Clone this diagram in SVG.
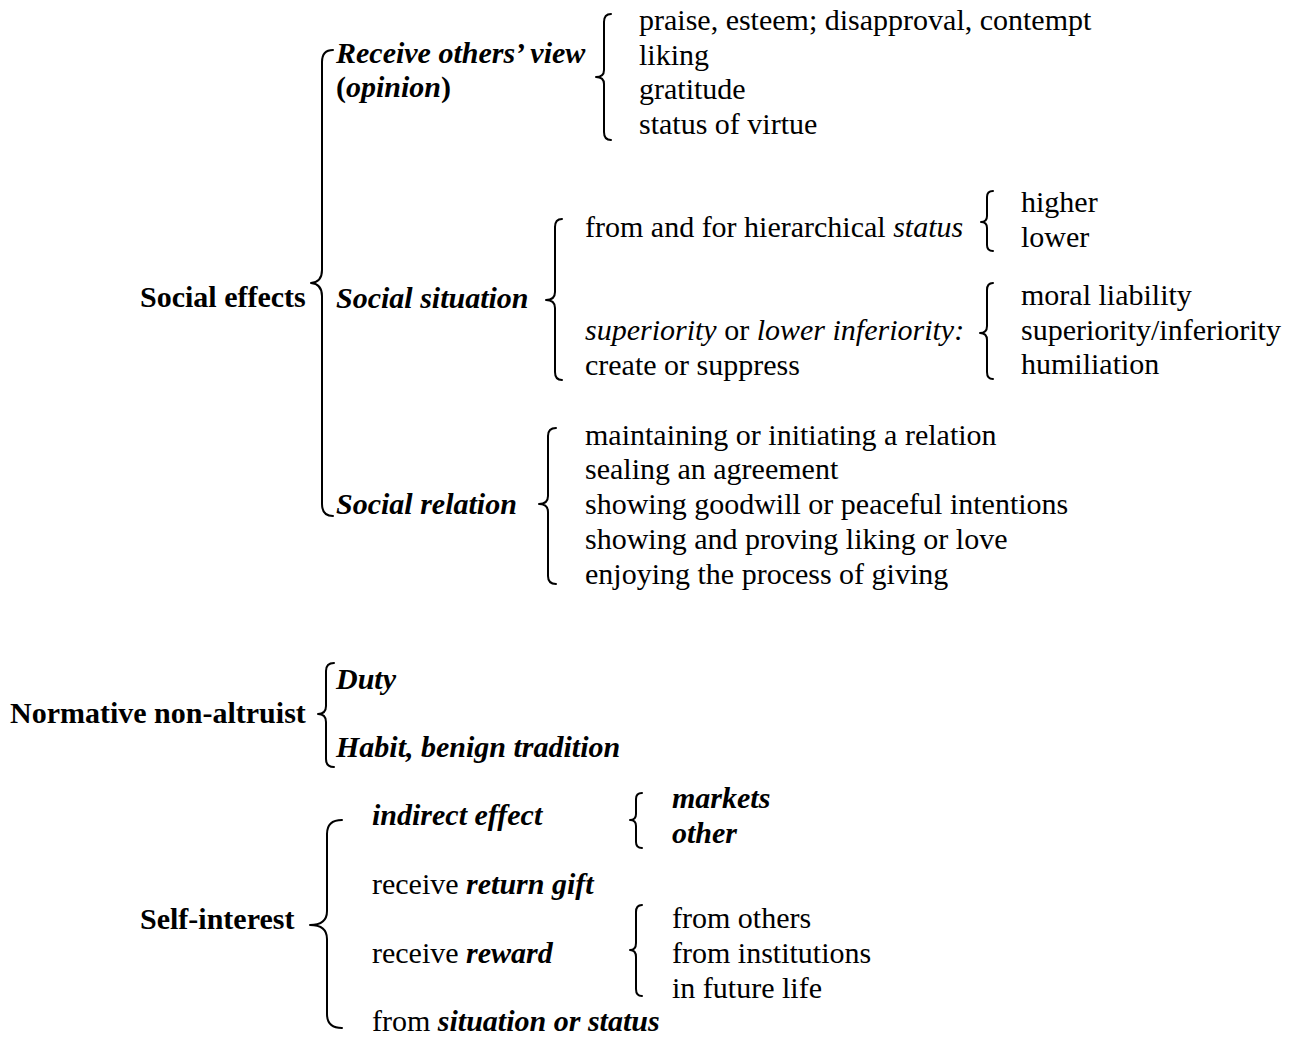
<svg xmlns="http://www.w3.org/2000/svg" width="1301" height="1038" viewBox="0 0 1301 1038">
<style>
text{font-family:"Liberation Serif","Times New Roman",serif;font-size:30px;fill:#000}
.b{font-weight:bold}
.bi{font-weight:bold;font-style:italic}
.i{font-style:italic}
.br{fill:none;stroke:#000;stroke-width:2;stroke-linecap:round;stroke-linejoin:round}
</style>
<rect width="1301" height="1038" fill="#fff"/>
<g id="connectors">
<!-- Social effects brace -->
<path class="br" d="M333,50 Q322,50 322,62 L322,270 Q322,282 311,283 Q322,284 322,296 L322,504 Q322,516 333,516"/>
<!-- Receive others' view brace -->
<path class="br" d="M611,14 Q604,14 604,22 L604,70 Q604,77 596,77 Q604,77 604,84 L604,132 Q604,140 611,140"/>
<!-- Social situation brace -->
<path class="br" d="M562,219 Q555,219 555,227 L555,292 Q555,300 546,300 Q555,300 555,308 L555,372 Q555,380 562,380"/>
<!-- status brace -->
<path class="br" d="M993,191 Q987,191 987,197 L987,216 Q987,222 981,222 Q987,222 987,228 L987,245 Q987,251 993,251"/>
<!-- superiority brace -->
<path class="br" d="M993,283 Q987,283 987,290 L987,326 Q987,333 980,333 Q987,333 987,340 L987,372 Q987,379 993,379"/>
<!-- Social relation brace -->
<path class="br" d="M556,428 Q548,428 548,436 L548,496 Q548,504 539,504 Q548,504 548,512 L548,576 Q548,584 556,584"/>
<!-- Normative brace -->
<path class="br" d="M334,663 Q326,663 326,671 L326,706 Q326,714 318,714 Q326,714 326,722 L326,759 Q326,767 334,767"/>
<!-- Self-interest brace -->
<path class="br" d="M342,820 Q327,820 327,834 L327,911 Q327,925 310,925 Q327,925 327,939 L327,1014 Q327,1028 342,1028"/>
<!-- markets brace -->
<path class="br" d="M642,793 Q636,793 636,799 L636,814 Q636,820 630,820 Q636,820 636,826 L636,842 Q636,848 642,848"/>
<!-- reward brace -->
<path class="br" d="M642,905 Q636,905 636,912 L636,943 Q636,950 630,950 Q636,950 636,957 L636,989 Q636,996 642,996"/>
</g>
<g id="node-social-effects"><text x="140" y="307" class="b">Social effects</text></g>
<g id="node-receive"><text x="336" y="63" class="bi">Receive others’ view</text><text x="336" y="97" class="b">(<tspan class="bi">opinion</tspan>)</text></g>
<g id="node-receive-list">
<text x="639" y="30">praise, esteem; disapproval, contempt</text>
<text x="639" y="65">liking</text>
<text x="639" y="99">gratitude</text>
<text x="639" y="134">status of virtue</text>
</g>
<g id="node-social-situation"><text x="336" y="308" class="bi">Social situation</text></g>
<g id="node-hierarchical"><text x="585" y="237">from and for hierarchical <tspan class="i">status</tspan></text></g>
<g id="node-higher-lower"><text x="1021" y="212">higher</text><text x="1021" y="247">lower</text></g>
<g id="node-superiority"><text x="585" y="340"><tspan class="i">superiority</tspan> or <tspan class="i">lower inferiority:</tspan></text><text x="585" y="375">create or suppress</text></g>
<g id="node-superiority-list"><text x="1021" y="305">moral liability</text><text x="1021" y="340">superiority/inferiority</text><text x="1021" y="374">humiliation</text></g>
<g id="node-social-relation"><text x="336" y="514" class="bi">Social relation</text></g>
<g id="node-relation-list">
<text x="585" y="445">maintaining or initiating a relation</text>
<text x="585" y="479">sealing an agreement</text>
<text x="585" y="514">showing goodwill or peaceful intentions</text>
<text x="585" y="549">showing and proving liking or love</text>
<text x="585" y="584">enjoying the process of giving</text>
</g>
<g id="node-normative"><text x="10" y="723" class="b">Normative non-altruist</text></g>
<g id="node-duty"><text x="336" y="689" class="bi">Duty</text></g>
<g id="node-habit"><text x="336" y="757" class="bi">Habit, benign tradition</text></g>
<g id="node-self-interest"><text x="140" y="929" class="b">Self-interest</text></g>
<g id="node-indirect"><text x="372" y="825" class="bi">indirect effect</text></g>
<g id="node-markets"><text x="672" y="808" class="bi">markets</text><text x="672" y="843" class="bi">other</text></g>
<g id="node-return-gift"><text x="372" y="894">receive <tspan class="bi">return gift</tspan></text></g>
<g id="node-reward"><text x="372" y="963">receive <tspan class="bi">reward</tspan></text></g>
<g id="node-reward-list"><text x="672" y="928">from others</text><text x="672" y="963">from institutions</text><text x="672" y="998">in future life</text></g>
<g id="node-situation-status"><text x="372" y="1031">from <tspan class="bi">situation or status</tspan></text></g>
</svg>
